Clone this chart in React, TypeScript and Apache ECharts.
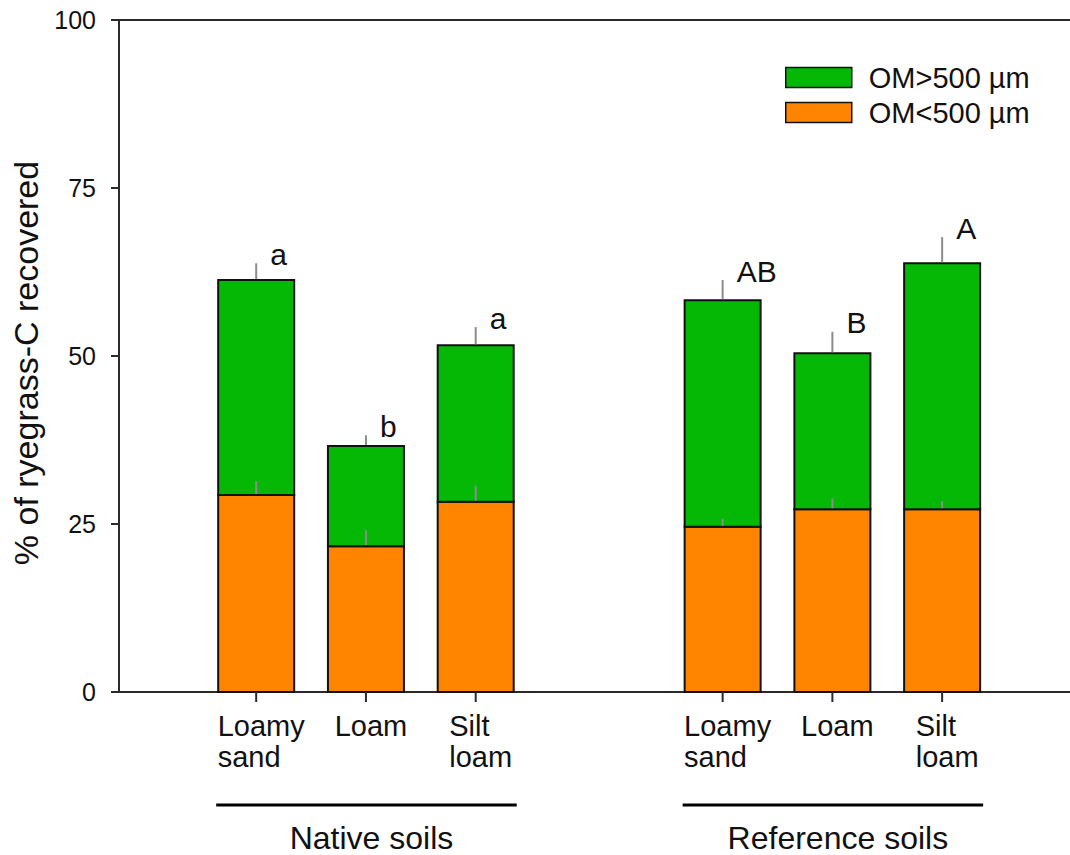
import React, { useEffect, useRef } from "react";
import * as echarts from "echarts";

// ---- data ----
const groups = ["Native soils", "Reference soils"];
const soils = ["Loamy\nsand", "Loam", "Silt\nloam"];
const omBelow500 = [29.3, 21.7, 28.3, 24.6, 27.2, 27.2];
const omBelow500Err = [2.1, 2.4, 2.4, 1.2, 1.6, 1.2];
const omAbove500 = [32.0, 14.9, 23.3, 33.7, 23.2, 36.6];
const totalErr = [2.5, 1.6, 2.7, 3.0, 3.2, 3.9];
const letters = ["a", "b", "a", "AB", "B", "A"];
const yTicks = [0, 25, 50, 75, 100];

const NAME_ABOVE = "OM>500 µm";
const NAME_BELOW = "OM<500 µm";

// ---- layout / style ----
const FONT = "'Liberation Sans', Arial, Helvetica, sans-serif";
const GREEN = "#05B805";
const ORANGE = "#FF8500";
const EDGE = "#111111";
const AXIS = "#2a2a2a";
const ERR = "#8c8c8c";
const BAR_W = 76;
const GROUP_STRIDE = 4.25;
const X_MIN = -0.25;
const X_MAX = 8.415;
const LABEL_SIZE = 29;

const nBars = groups.length * soils.length;
const pos = (i: number) => 1 + Math.floor(i / soils.length) * GROUP_STRIDE + (i % soils.length);
const barLabel = (i: number) => soils[i % soils.length];

let measureCtx: CanvasRenderingContext2D | null = null;
function textWidth(t: string, size: number) {
  if (!measureCtx) measureCtx = document.createElement("canvas").getContext("2d");
  if (!measureCtx) return t.length * size * 0.5;
  measureCtx.font = `${size}px ${FONT}`;
  return Math.max(...t.split("\n").map((l) => measureCtx!.measureText(l).width));
}

export default function App() {
  const ref = useRef<HTMLDivElement>(null);

  useEffect(() => {
    document.body.style.margin = "0";
    if (!ref.current) return;
    const chart = echarts.init(ref.current, undefined, { renderer: "svg" });

    const idx = Array.from({ length: nBars }, (_, i) => i);
    const belowData = idx.map((i) => [pos(i), 0, omBelow500[i]]);
    const aboveData = idx.map((i) => [pos(i), omBelow500[i], omBelow500[i] + omAbove500[i]]);
    const errData = idx.map((i) => {
      const total = omBelow500[i] + omAbove500[i];
      return [pos(i), omBelow500[i], omBelow500[i] + omBelow500Err[i], total, total + totalErr[i]];
    });
    const labelData = idx.map((i) => [pos(i), i, omBelow500[i] + omAbove500[i] + totalErr[i]]);
    const groupData = groups.map((_, g) => [pos(g * soils.length), pos(g * soils.length + soils.length - 1), g]);

    const segment = (fill: string) => (params: any, api: any) => {
      const x = api.value(0);
      const p0 = api.coord([x, api.value(1)]);
      const p1 = api.coord([x, api.value(2)]);
      return {
        type: "rect",
        shape: { x: p0[0] - BAR_W / 2, y: p1[1], width: BAR_W, height: p0[1] - p1[1] },
        style: { fill, stroke: EDGE, lineWidth: 2 },
      };
    };

    const option: any = {
      animation: false,
      backgroundColor: "#ffffff",
      grid: { left: 119, top: 20, right: 0, height: 672, containLabel: false },
      legend: {
        orient: "vertical",
        left: 780,
        top: 58,
        icon: "rect",
        itemWidth: 66,
        itemHeight: 20,
        itemGap: 6,
        selectedMode: false,
        textStyle: { fontFamily: FONT, fontSize: 29, color: "#111", lineHeight: 20, padding: [0, 0, 0, 12] },
        data: [
          { name: NAME_ABOVE, itemStyle: { color: GREEN, borderColor: EDGE, borderWidth: 1.5 } },
          { name: NAME_BELOW, itemStyle: { color: ORANGE, borderColor: EDGE, borderWidth: 1.5 } },
        ],
      },
      xAxis: [
        {
          type: "value",
          min: X_MIN,
          max: X_MAX,
          position: "bottom",
          axisLine: { show: true, onZero: false, lineStyle: { color: AXIS, width: 2 } },
          axisTick: { show: false },
          axisLabel: { show: false },
          splitLine: { show: false },
        },
        {
          type: "value",
          min: X_MIN,
          max: X_MAX,
          position: "top",
          axisLine: { show: true, onZero: false, lineStyle: { color: AXIS, width: 2 } },
          axisTick: { show: false },
          axisLabel: { show: false },
          splitLine: { show: false },
        },
      ],
      yAxis: {
        type: "value",
        min: yTicks[0],
        max: yTicks[yTicks.length - 1],
        interval: yTicks[1] - yTicks[0],
        name: "% of ryegrass-C recovered",
        nameLocation: "middle",
        nameGap: 73,
        nameTextStyle: { fontFamily: FONT, fontSize: 34, color: "#111", padding: [0, 14, 0, 0] },
        axisLine: { show: true, onZero: false, lineStyle: { color: AXIS, width: 2 } },
        axisTick: { show: true, inside: false, length: 8, lineStyle: { color: AXIS, width: 2 } },
        axisLabel: { fontFamily: FONT, fontSize: 25, color: "#111", margin: 23 },
        splitLine: { show: false },
      },
      series: [
        {
          name: NAME_BELOW,
          type: "custom",
          silent: true,
          itemStyle: { color: ORANGE },
          encode: { x: 0, y: [1, 2] },
          data: belowData,
          renderItem: segment(ORANGE),
        },
        {
          name: NAME_ABOVE,
          type: "custom",
          silent: true,
          itemStyle: { color: GREEN },
          encode: { x: 0, y: [1, 2] },
          data: aboveData,
          renderItem: segment(GREEN),
        },
        {
          type: "custom",
          silent: true,
          encode: { x: 0, y: [1, 4] },
          data: errData,
          renderItem: (params: any, api: any) => {
            const x = api.value(0);
            const a0 = api.coord([x, api.value(1)]);
            const a1 = api.coord([x, api.value(2)]);
            const b0 = api.coord([x, api.value(3)]);
            const b1 = api.coord([x, api.value(4)]);
            const st = { stroke: ERR, lineWidth: 2 };
            return {
              type: "group",
              children: [
                { type: "line", shape: { x1: a0[0], y1: a0[1] - 1, x2: a1[0], y2: a1[1] }, style: st },
                { type: "line", shape: { x1: b0[0], y1: b0[1] - 1, x2: b1[0], y2: b1[1] }, style: st },
              ],
            };
          },
        },
        {
          type: "custom",
          silent: true,
          encode: { x: 0, y: 2 },
          data: labelData,
          renderItem: (params: any, api: any) => {
            const x = api.value(0);
            const i = api.value(1);
            const base = api.coord([x, 0]);
            const top = api.coord([x, api.value(2)]);
            const lbl = barLabel(i);
            const w = textWidth(lbl, LABEL_SIZE);
            return {
              type: "group",
              children: [
                {
                  type: "line",
                  shape: { x1: base[0], y1: base[1], x2: base[0], y2: base[1] + 10 },
                  style: { stroke: AXIS, lineWidth: 2 },
                },
                {
                  type: "text",
                  x: base[0] - w / 2 + 5,
                  y: base[1] + 18,
                  style: {
                    text: lbl,
                    fontFamily: FONT,
                    fontSize: LABEL_SIZE,
                    lineHeight: 31,
                    fill: "#111",
                    align: "left",
                    verticalAlign: "top",
                  },
                },
                {
                  type: "text",
                  x: top[0] + 14,
                  y: top[1] + 6,
                  style: {
                    text: letters[i],
                    fontFamily: FONT,
                    fontSize: 30,
                    fill: "#111",
                    align: "left",
                    verticalAlign: "bottom",
                  },
                },
              ],
            };
          },
        },
        {
          type: "custom",
          silent: true,
          encode: { x: [0, 1] },
          data: groupData,
          renderItem: (params: any, api: any) => {
            const p0 = api.coord([api.value(0), 0]);
            const p1 = api.coord([api.value(1), 0]);
            const g = api.value(2);
            const x1 = p0[0] - BAR_W / 2 - 2;
            const x2 = p1[0] + BAR_W / 2 + 3;
            return {
              type: "group",
              children: [
                {
                  type: "line",
                  shape: { x1, y1: p0[1] + 113, x2, y2: p0[1] + 113 },
                  style: { stroke: "#000", lineWidth: 3 },
                },
                {
                  type: "text",
                  x: (x1 + x2) / 2 + 5,
                  y: p0[1] + 146,
                  style: {
                    text: groups[g],
                    fontFamily: FONT,
                    fontSize: 32,
                    fill: "#111",
                    align: "center",
                    verticalAlign: "middle",
                  },
                },
              ],
            };
          },
        },
      ],
    };

    chart.setOption(option);
    return () => chart.dispose();
  }, []);

  return <div ref={ref} style={{ width: 1070, height: 855 }} />;
}
